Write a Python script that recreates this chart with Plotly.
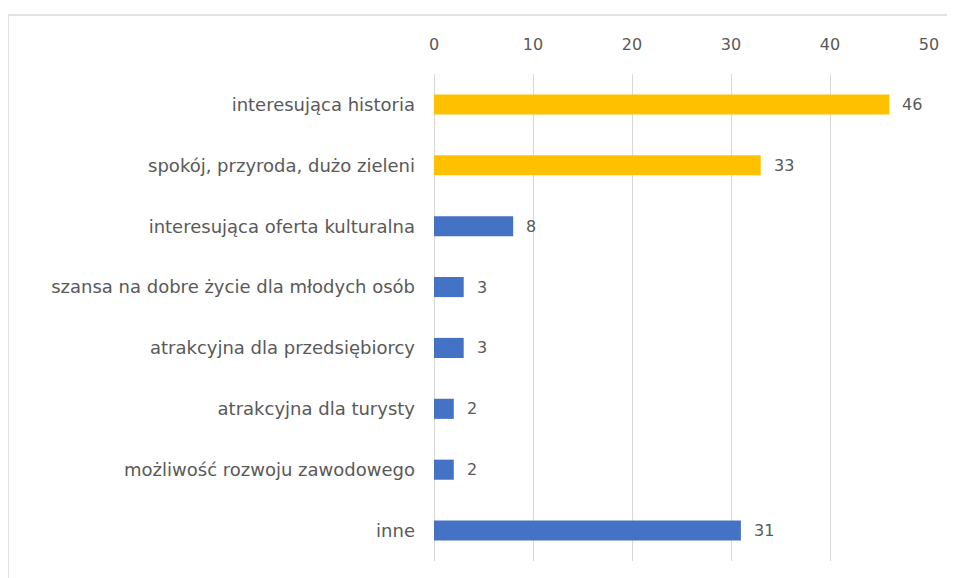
import plotly.graph_objects as go

categories = [
    "interesująca historia",
    "spokój, przyroda, dużo zieleni",
    "interesująca oferta kulturalna",
    "szansa na dobre życie dla młodych osób",
    "atrakcyjna dla przedsiębiorcy",
    "atrakcyjna dla turysty",
    "możliwość rozwoju zawodowego",
    "inne",
]
values = [46, 33, 8, 3, 3, 2, 2, 31]
colors = ["#FFC000", "#FFC000", "#4472C4", "#4472C4", "#4472C4", "#4472C4", "#4472C4", "#4472C4"]
tick_values = [0, 10, 20, 30, 40, 50]

font_family = "DejaVu Sans, sans-serif"
gray = "#595959"
fsize = 16

fig = go.Figure()
fig.add_trace(go.Bar(
    x=values, y=categories, orientation="h",
    marker=dict(color=colors, line=dict(width=0)),
    width=0.33, hoverinfo="skip",
))

for v, c in zip(values, categories):
    fig.add_annotation(x=v, y=c, text=str(v), showarrow=False,
                       xanchor="left", xshift=11,
                       font=dict(family=font_family, size=fsize, color=gray))

fig.update_layout(
    width=955, height=578,
    margin=dict(l=426, r=34, t=66, b=25),
    paper_bgcolor="white", plot_bgcolor="white",
    showlegend=False,
    font=dict(family=font_family, size=fsize, color=gray),
    xaxis=dict(range=[0, 50], side="top", tickvals=tick_values,
               showgrid=True, gridcolor="#D9D9D9", gridwidth=1,
               zeroline=True, zerolinecolor="#D9D9D9", zerolinewidth=1,
               showline=False, ticks="", ticklabelstandoff=20,
               tickfont=dict(size=fsize, color=gray), fixedrange=True),
    yaxis=dict(autorange="reversed", showgrid=False, zeroline=False,
               showline=False, ticks="", ticklabelstandoff=18,
               tickfont=dict(size=18, color=gray), fixedrange=True),
    shapes=[dict(type="rect", xref="paper", yref="paper",
                 x0=-0.8606, x1=1.08, y0=-0.041, y1=1.1211,
                 line=dict(color="#D9D9D9", width=1.5), layer="below")],
)

fig.write_html("out.html")
